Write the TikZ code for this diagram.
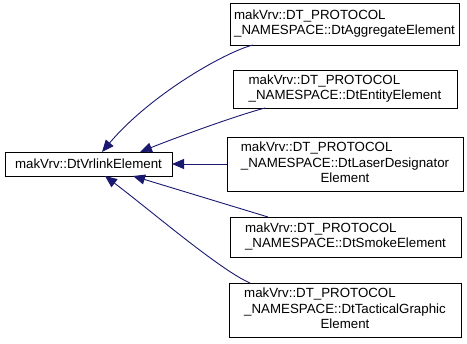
\documentclass[tikz,border=0pt]{standalone}
\usepackage{fontspec}
\setmainfont{Liberation Sans}
\usetikzlibrary{arrows.meta,calc}
\definecolor{edgeblue}{HTML}{191970}
\begin{document}
\begin{tikzpicture}[x=1pt,y=-1pt,
  box/.style={draw=black, line width=0.9pt, fill=white, inner sep=0pt, outer sep=0pt,
              font=\fontsize{13.3}{15.5}\selectfont},
  inh/.style={draw=edgeblue, line width=0.9pt, {Triangle[length=12pt,width=10pt,fill=edgeblue]}-}]
\useasboundingbox (0,0) rectangle (467,344);

\node[box, minimum width=167pt, minimum height=24pt] (a) at (88.5,164) {makVrv::DtVrlinkElement};

\node[box, minimum width=229pt, minimum height=42pt] (b1) at (344.5,24)
  {\begin{tabular}{@{}l@{}}makVrv::DT\_PROTOCOL\\\_NAMESPACE::DtAggregateElement\end{tabular}};
\node[box, minimum width=224pt, minimum height=38pt] (b2) at (345,89)
  {\begin{tabular}{@{}l@{}}makVrv::DT\_PROTOCOL\\\_NAMESPACE::DtEntityElement\end{tabular}};
\node[box, minimum width=236pt, minimum height=54pt] (b3) at (345,164)
  {\begin{tabular}{@{}l@{}}makVrv::DT\_PROTOCOL\\\_NAMESPACE::DtLaserDesignator\\\multicolumn{1}{@{}c@{}}{Element}\end{tabular}};
\node[box, minimum width=231pt, minimum height=40pt] (b4) at (345.5,237)
  {\begin{tabular}{@{}l@{}}makVrv::DT\_PROTOCOL\\\_NAMESPACE::DtSmokeElement\end{tabular}};
\node[box, minimum width=232pt, minimum height=54pt] (b5) at (345,310)
  {\begin{tabular}{@{}l@{}}makVrv::DT\_PROTOCOL\\\_NAMESPACE::DtTacticalGraphic\\\multicolumn{1}{@{}c@{}}{Element}\end{tabular}};

\draw[inh] ($(a.north west)+(97,0)$) .. controls (150,95) and (225,52) .. ($(b1.south west)+(23,0)$);
\draw[inh] ($(a.north west)+(135,0)$) .. controls (175,138) and (235,116) .. ($(b2.south west)+(32,0)$);
\draw[inh] (a.east) -- (b3.west);
\draw[inh] ($(a.south west)+(128,0)$) -- ($(b4.north west)+(38,0)$);
\draw[inh] ($(a.south west)+(100,0)$) .. controls (150,210) and (220,270) .. ($(b5.north west)+(21,0)$);
\end{tikzpicture}
\end{document}
